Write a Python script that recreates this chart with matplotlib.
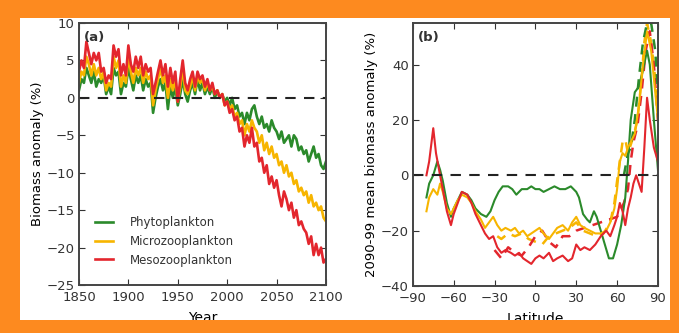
import matplotlib.pyplot as plt
from matplotlib.patches import Rectangle
import numpy as np

# panel (a): global biomass anomaly, 2.5-year steps
years = np.linspace(1850, 2100, 101)

phyto = [1.0, 2.5, 2.0, 4.0, 3.0, 2.0, 3.5, 1.5, 2.5, 2.0,
         3.0, 0.5, 1.5, 0.5, 4.0, 3.0, 3.5, 0.5, 2.0, 1.5,
         4.0, 2.5, 1.0, 3.0, 2.0, 3.0, 1.0, 2.5, 1.5, 2.0,
         -2.0, 0.0, 1.5, 2.5, 1.0, 2.0, -1.5, 1.5, 0.0, 1.5,
         -1.0, 0.5, 2.5, 0.5, -0.5, 1.0, 2.0, 0.5, 2.5, 1.0,
         2.0, 0.5, 1.5, 0.5, 1.5, 0.0, 1.0, 0.0, 0.5, -0.5,
         0.0, -1.0, 0.0, -1.5, -1.0, -2.5, -2.0, -3.5, -2.0, -3.0,
         -1.5, -1.0, -2.5, -3.5, -2.5, -4.0, -3.5, -4.5, -3.0, -4.0,
         -4.5, -5.5, -4.5, -6.0, -5.5, -5.0, -6.5, -5.0, -5.5, -7.0,
         -6.5, -7.5, -7.0, -8.5, -7.5, -6.5, -8.0, -7.5, -9.0, -9.5,
         -8.5]
micro = [2.0, 3.5, 3.0, 5.5, 4.5, 3.0, 4.5, 3.0, 4.0, 2.5,
         3.5, 1.0, 2.0, 1.5, 5.5, 4.0, 5.0, 1.5, 3.0, 2.0,
         5.5, 3.5, 2.0, 4.0, 3.0, 4.0, 2.0, 3.5, 2.5, 3.0,
         -1.0, 1.0, 2.5, 4.0, 2.0, 3.0, 0.0, 2.5, 1.0, 2.5,
         -0.5, 1.5, 4.0, 1.0, 0.5, 1.5, 3.0, 1.0, 3.0, 2.0,
         2.5, 1.0, 2.0, 1.0, 1.5, 0.5, 1.0, 0.0, 0.5, -1.0,
         -0.5, -1.5, -1.0, -2.5, -2.0, -3.5, -3.0, -5.0, -3.5, -4.5,
         -3.0, -4.0, -4.5, -6.0, -5.0, -7.0, -6.0, -7.5, -6.5, -8.0,
         -7.5, -9.0, -8.5, -10.0, -9.0, -10.5, -10.0, -11.5, -11.0, -12.5,
         -12.0, -13.0, -12.5, -14.0, -13.0, -14.5, -14.0, -15.0, -14.5, -16.0,
         -16.5]
meso = [3.5, 5.0, 4.0, 7.5, 6.0, 4.5, 6.0, 5.0, 6.0, 3.5,
        4.0, 2.0, 3.0, 2.5, 7.0, 5.5, 6.5, 3.0, 4.5, 3.0,
        7.0, 4.5, 3.5, 5.5, 4.0, 5.5, 3.0, 4.5, 3.5, 4.0,
        0.5, 2.0, 3.5, 5.0, 3.0, 4.5, 1.5, 4.0, 2.0, 3.5,
        -0.5, 2.5, 5.0, 2.0, 1.0, 2.5, 3.5, 1.5, 3.5, 2.5,
        3.0, 1.5, 2.5, 1.0, 2.0, 0.5, 1.0, 0.0, 0.5, -1.0,
        -0.5, -2.0, -1.5, -3.0, -2.5, -4.5, -4.0, -6.5, -5.0, -6.0,
        -4.0, -6.5, -6.0, -8.5, -8.0, -10.0, -9.0, -11.5, -10.5, -12.0,
        -11.0, -13.0, -14.5, -12.5, -13.5, -15.0, -14.0, -16.0, -15.0, -17.0,
        -16.5, -17.5, -18.0, -19.5, -18.5, -21.0, -19.5, -21.0, -20.0, -22.0,
        -21.5]

# panel (b): 2090-99 zonal mean anomaly
lat_g = [-80, -78, -75, -72, -70, -68, -65, -62, -60, -57, -54, -50, -47, -44, -40,
         -36, -33, -30, -27, -24, -20, -17, -14, -10, -6, -3, 0, 3, 6, 10, 14, 18,
         22, 26, 30, 32, 35, 38, 40, 43, 45, 48, 51, 54, 57, 60, 63, 66, 68, 70, 73,
         76, 79, 82, 84, 87, 90]
phyto_lat = [-8, -3, 0, 5, 2, -2, -10, -15, -12, -9, -6, -7, -9, -12, -14,
             -15, -13, -9, -6, -4, -4, -5, -7, -5, -5, -4, -5, -5, -6, -5, -4, -5,
             -5, -4, -6, -8, -14, -16, -17, -13, -15, -20, -25, -30, -30, -25, -18, -8, 5, 20, 30,
             32, 38, 45, 40, 20, 2]
lat_o = [-80, -78, -75, -72, -70, -68, -65, -62, -60, -57, -54, -50, -47, -44, -40,
         -37, -34, -31, -28, -25, -22, -18, -15, -12, -9, -6, -3, 0, 3, 6, 10, 13,
         16, 20, 24, 27, 30, 33, 36, 40, 44, 48, 52, 55, 58, 60, 62, 64, 66, 68, 70,
         73, 76, 79, 82, 85, 88, 90]
micro_lat = [-13, -8, -5, -7, -3, -6, -12, -14, -12, -9, -7, -8, -10, -13, -16,
             -19, -17, -15, -18, -20, -19, -20, -19, -21, -20, -22, -21, -20, -19, -21, -23, -21,
             -19, -18, -20, -17, -15, -18, -19, -20, -21, -21, -20, -17, -12, -5, 5, 8, 7, 10, 12,
             15, 25, 40, 52, 45, 30, 20]
lat_r = [-80, -78, -75, -73, -70, -68, -65, -62, -60, -57, -54, -50, -47, -44, -40,
         -37, -34, -31, -28, -25, -22, -18, -15, -12, -9, -6, -3, 0, 3, 6, 10, 13,
         16, 20, 24, 27, 30, 33, 36, 40, 44, 48, 52, 55, 58, 60, 62, 64, 66, 68, 70,
         72, 74, 76, 78, 80, 82, 84, 87, 90]
meso_lat = [0, 5, 17, 8, 0, -5, -13, -18, -14, -10, -6, -7, -10, -14, -18,
            -21, -23, -22, -26, -28, -27, -28, -29, -28, -30, -31, -32, -30, -29, -30, -28, -31,
            -30, -29, -31, -30, -25, -27, -26, -27, -25, -22, -20, -22, -18, -15, -10, -13, -18, -12, -8,
            -3, 0, -3, -6, 10, 28, 20, 10, 5]

# second estimate (dashed)
lat_od = [-28, -25, -20, -15, -10, -5, 0, 5, 10, 15, 20, 25, 30, 35, 40, 45, 50,
          55, 58, 60, 62, 64, 66, 68, 70, 72, 75, 78, 80, 82, 85, 88, 90]
micro_lat_d = [-22, -23, -21, -22, -21, -23, -24, -25, -22, -21, -20, -19, -17, -20, -21, -22, -21,
               -17, -10, -2, 5, 12, 13, 8, 11, 14, 20, 35, 48, 55, 48, 35, 25]
lat_rd = [-30, -25, -20, -15, -10, -5, 0, 5, 10, 15, 20, 25, 30, 60, 65, 68, 70,
          72, 75, 78, 81, 84, 87, 90]
meso_lat_d = [-27, -30, -26, -28, -29, -26, -22, -20, -24, -26, -22, -22, -20, -15, -10, -5, 5,
              12, 18, 30, 45, 52, 40, 20]
lat_gd = [65, 68, 70, 73, 76, 79, 82, 85, 88, 90]
phyto_lat_d = [0, 8, 10, 20, 35, 48, 55, 55, 45, 30]

GREEN = '#2b8a2b'
ORANGE = '#f7b500'
RED = '#e3262d'
FRAME = '#fd8a1f'

plt.rcParams['font.family'] = 'DejaVu Sans'
plt.rcParams['font.size'] = 9.5
plt.rcParams['xtick.direction'] = 'in'
plt.rcParams['ytick.direction'] = 'in'
plt.rcParams['xtick.top'] = True
plt.rcParams['ytick.right'] = True
plt.rcParams['axes.edgecolor'] = '#444444'
plt.rcParams['text.color'] = '#333333'
plt.rcParams['xtick.color'] = '#333333'
plt.rcParams['ytick.color'] = '#333333'

fig = plt.figure(figsize=(6.79, 3.33), dpi=100)
fig.patch.set_facecolor('white')

ax1 = fig.add_axes([0.1163, 0.144, 0.3638, 0.787])
ax2 = fig.add_axes([0.608, 0.141, 0.361, 0.790])

ax1.plot(years, phyto, color=GREEN, lw=1.9, label='Phytoplankton')
ax1.plot(years, micro, color=ORANGE, lw=1.9, label='Microzooplankton')
ax1.plot(years, meso, color=RED, lw=1.9, label='Mesozooplankton')
ax1.axhline(0, color='#222222', lw=1.5, ls=(0, (5, 4)))
ax1.set_xlim(1850, 2100)
ax1.set_ylim(-25, 10)
ax1.set_xticks([1850, 1900, 1950, 2000, 2050, 2100])
ax1.set_yticks([-25, -20, -15, -10, -5, 0, 5, 10])
ax1.set_yticklabels(['\u221225', '\u221220', '\u221215', '\u221210', '\u22125', '0', '5', '10'])
ax1.set_xlabel('Year', fontsize=10, labelpad=5)
ax1.set_ylabel('Biomass anomaly (%)', fontsize=9.5, labelpad=2)
ax1.text(0.02, 0.97, '(a)', transform=ax1.transAxes, fontweight='bold',
         va='top', ha='left', fontsize=9.5)
leg = ax1.legend(loc='lower left', bbox_to_anchor=(0.02, 0.03), frameon=False,
                 fontsize=8.5, handlelength=1.6, handletextpad=1.4, labelspacing=0.5)

ax2.plot(lat_od, micro_lat_d, color=ORANGE, lw=1.8, ls=(0, (4, 3)))
ax2.plot(lat_rd, meso_lat_d, color=RED, lw=1.8, ls=(0, (4, 3)))
ax2.plot(lat_gd, phyto_lat_d, color=GREEN, lw=1.8, ls=(0, (4, 3)))
ax2.plot(lat_g, phyto_lat, color=GREEN, lw=1.5)
ax2.plot(lat_o, micro_lat, color=ORANGE, lw=1.5)
ax2.plot(lat_r, meso_lat, color=RED, lw=1.5)
ax2.axhline(0, color='#222222', lw=1.5, ls=(0, (5, 4)))
ax2.set_xlim(-90, 90)
ax2.set_ylim(-40, 55)
ax2.set_xticks([-90, -60, -30, 0, 30, 60, 90])
ax2.set_xticklabels(['\u221290', '\u221260', '\u221230', '0', '30', '60', '90'])
ax2.set_yticks([-40, -20, 0, 20, 40])
ax2.set_yticklabels(['\u221240', '\u221220', '0', '20', '40'])
ax2.set_xlabel('Latitude', fontsize=10, labelpad=5)
ax2.set_ylabel('2090-99 mean biomass anomaly (%)', fontsize=9.5, labelpad=2)
ax2.text(0.02, 0.97, '(b)', transform=ax2.transAxes, fontweight='bold',
         va='top', ha='left', fontsize=9.5)

for ax in (ax1, ax2):
    for s in ax.spines.values():
        s.set_linewidth(1.4)
    ax.tick_params(length=4, width=0.8, pad=3)
    ax.tick_params(axis='x', pad=4)

# orange frame drawn over everything
W, H = 679.0, 333.0
for x0, y0, w, h in [(0, 0, 20, 333), (670, 0, 9, 333), (0, 0, 679, 13), (0, 315, 679, 18)]:
    fig.add_artist(Rectangle((x0 / W, y0 / H), w / W, h / H, transform=fig.transFigure,
                             facecolor=FRAME, edgecolor='none', zorder=10))

fig.savefig('out.png', dpi=100, facecolor=fig.get_facecolor())
